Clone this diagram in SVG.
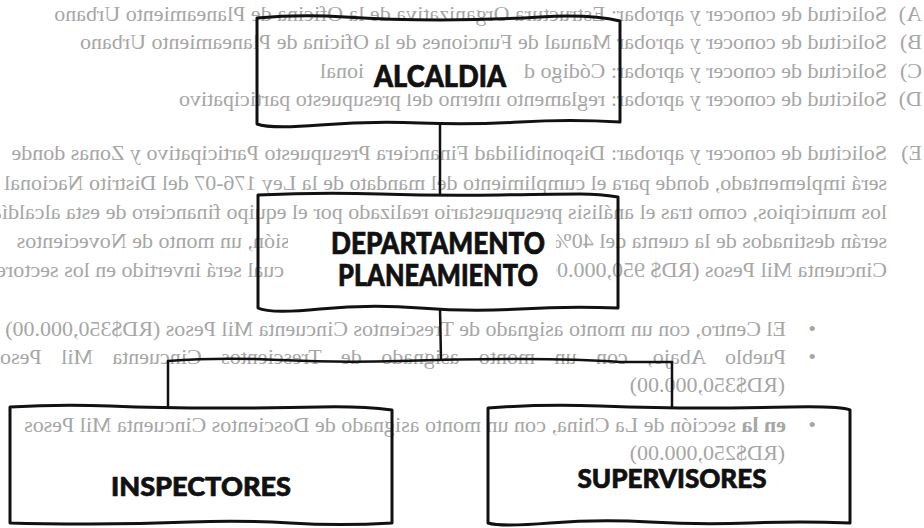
<svg xmlns="http://www.w3.org/2000/svg" width="924" height="528" viewBox="0 0 924 528">
<style>
.bleed{font-family:"Liberation Serif","Times New Roman",serif;font-size:22px;fill:#a6a6a6;}
.box{fill:none;stroke:#111;stroke-width:3;stroke-linejoin:round;}
.conn{fill:none;stroke:#111;stroke-width:2.5;stroke-linejoin:round;}
.cover{fill:#fff;}
.lbl{font-family:"Lato","DejaVu Sans",sans-serif;font-weight:900;fill:#111;stroke:#111;stroke-width:0.7;text-anchor:middle;}
</style>
<rect width="924" height="528" fill="#fff"/>
<g id="bleed-through" class="bleed" transform="matrix(-1 0 0 1 924 0)">
  <text x="2" y="21">A)</text><text x="37" y="21">Solicitud de conocer y aprobar: Estructura Organizativa de la Oficina de Planeamiento Urbano</text>
  <text x="2" y="49">B)</text><text x="37" y="49">Solicitud de conocer y aprobar Manual de Funciones de la Oficina de Planeamiento Urbano</text>
  <text x="2" y="78">C)</text><text x="37" y="78">Solicitud de conocer y aprobar: Código d</text><text x="560" y="78">ional</text>
  <text x="2" y="106">D)</text><text x="37" y="106">Solicitud de conocer y aprobar: reglamento interno del presupuesto participativo</text>
  <text x="2" y="160">E)</text><text x="37" y="160">Solicitud de conocer y aprobar: Disponibilidad Financiera Presupuesto Participativo y Zonas donde</text>
  <text x="37" y="190">será implementado, donde para el cumplimiento del mandato de la Ley 176-07 del Distrito Nacional y</text>
  <text x="37" y="219">los municipios, como tras el análisis presupuestario realizado por el equipo financiero de esta alcaldía,</text>
  <text x="37" y="248">serán destinados de la cuenta del 40%</text><text x="589" y="248">inversión, un monto de Novecientos</text>
  <text x="37" y="277">Cincuenta Mil Pesos (RD$ 950,000.00)</text><text x="640" y="277">cual será invertido en los sectores de:</text>
  <text x="108" y="336">•</text><text x="138" y="336">El Centro, con un monto asignado de Trescientos Cincuenta Mil Pesos (RD$350,000.00)</text>
  <text x="108" y="364">•</text><text x="138" y="364" word-spacing="14">Pueblo Abajo, con un monto asignado de Trescientos Cincuenta Mil Pesos</text>
  <text x="139" y="392">(RD$350,000.00)</text>
  <text x="108" y="432">•</text><text x="138" y="432"><tspan font-weight="bold">en la</tspan> sección de La China, con un monto asignado de Doscientos Cincuenta Mil Pesos</text>
  <text x="139" y="460">(RD$250,000.00)</text>
</g>
<g id="connectors">
  <path class="conn" d="M440,122 L440,196"/>
  <path class="conn" d="M440,308 L441,360"/>
  <path class="conn" d="M168,408 L168,361 Q220,357 280,360 T400,361 T520,359 T620,362 L672,362 L672,408"/>
</g>
<g id="alcaldia">
  <rect class="cover" x="366" y="58" width="146" height="36"/>
  <path class="box" d="M257,18 Q300,14 345,17 T440,20 T540,17 T620,21 L620,122 Q570,119 520,122 T420,123 T320,125 T257,124 Z"/>
  <text class="lbl" x="440" y="87" font-size="30" textLength="132" lengthAdjust="spacingAndGlyphs">ALCALDIA</text>
</g>
<g id="departamento-planeamiento">
  <rect class="cover" x="288" y="226" width="268" height="68"/>
  <path class="box" d="M258,195 Q320,192 380,194 T500,195 T580,194 T618,197 L618,308 Q570,306 520,309 T420,308 T320,309 T258,308 Z"/>
  <text class="lbl" x="438" y="254" font-size="30" textLength="214" lengthAdjust="spacingAndGlyphs">DEPARTAMENTO</text>
  <text class="lbl" x="438" y="286" font-size="30" textLength="200" lengthAdjust="spacingAndGlyphs">PLANEAMIENTO</text>
</g>
<g id="inspectores">
  <path class="box" d="M10,407 Q60,404 110,406 T220,408 T320,407 T392,410 L392,523 Q340,526 290,523 T190,522 T90,524 T10,523 Z"/>
  <text class="lbl" x="201" y="496" font-size="27" textLength="180" lengthAdjust="spacingAndGlyphs">INSPECTORES</text>
</g>
<g id="supervisores">
  <path class="box" d="M488,408 Q540,404 600,406 T700,408 T790,407 T850,410 L850,523 Q800,521 750,523 T650,522 T550,523 T488,523 Z"/>
  <text class="lbl" x="672" y="488" font-size="27" textLength="189" lengthAdjust="spacingAndGlyphs">SUPERVISORES</text>
</g>
</svg>
